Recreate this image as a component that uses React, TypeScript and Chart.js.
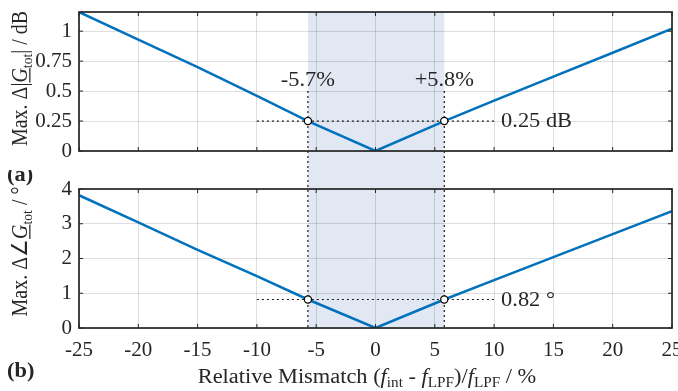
import React, { useEffect, useRef } from "react";
import { Chart, registerables } from "chart.js";
Chart.register(...registerables);

// ---- data ----
const mismatch = [-25, -20, -15, -10, -5.7, 0, 5.8, 10, 15, 20, 25];
const magDeviation = [1.16, 0.93, 0.7, 0.46, 0.25, 0, 0.25, 0.42, 0.62, 0.82, 1.02];
const phaseDeviation = [3.82, 3.04, 2.25, 1.49, 0.82, 0, 0.82, 1.38, 2.04, 2.7, 3.36];
const xTicks = [-25, -20, -15, -10, -5, 0, 5, 10, 15, 20, 25];
const magTicks = [0, 0.25, 0.5, 0.75, 1];
const phaseTicks = [0, 1, 2, 3, 4];
const limitX = [-5.7, 5.8];
const limitLabels = ["-5.7%", "+5.8%"];
const magLimit = [0.25, 0.25];
const phaseLimit = [0.82, 0.82];
const guideSpan = [-10, 10];
const guideTopValue = 0.5;
const magLimitLabel = "0.25 dB";
const phaseLimitLabel = "0.82 °";
const magRange = [0, 1.16];
const phaseRange = [0, 4];
const xRange = [-25, 25];

const FONT = '"Liberation Serif", "Times New Roman", serif';
const TEXT = "#262626";
const FS = 20;
const TICK_FS = 21;
const STRETCH = 1.12;

type Seg = { t: string; italic?: boolean; sub?: boolean; under?: boolean; bold?: boolean };

function segFont(s: Seg, size: number) {
  const sz = s.sub ? size * 0.68 : size;
  return `${s.italic ? "italic " : ""}${s.bold ? "bold " : ""}${sz}px ${FONT}`;
}

function drawRich(ctx: CanvasRenderingContext2D, segs: Seg[], x: number, y: number, size: number, align: "left" | "center") {
  ctx.textBaseline = "alphabetic";
  ctx.textAlign = "left";
  let w = 0;
  for (const s of segs) {
    ctx.font = segFont(s, size);
    w += ctx.measureText(s.t).width;
  }
  let cx = align === "center" ? x - w / 2 : x;
  for (const s of segs) {
    ctx.font = segFont(s, size);
    const sw = ctx.measureText(s.t).width;
    const dy = s.sub ? size * 0.22 : 0;
    ctx.fillText(s.t, cx, y + dy);
    if (s.under) ctx.fillRect(cx, y + size * 0.1, sw, 1.1);
    cx += sw;
  }
}

// draw text horizontally stretched, anchored at (x, y)
function stretchedText(ctx: CanvasRenderingContext2D, text: string, x: number, y: number, font: string, align: CanvasTextAlign, baseline: CanvasTextBaseline) {
  ctx.save();
  ctx.translate(x, y);
  ctx.scale(STRETCH, 1);
  ctx.font = font;
  ctx.textAlign = align;
  ctx.textBaseline = baseline;
  ctx.fillText(text, 0, 0);
  ctx.restore();
}

const magTitle: Seg[] = [
  { t: "Max. Δ|" },
  { t: "G", italic: true, under: true },
  { t: "tot", sub: true },
  { t: "| / dB" },
];
const phaseTitle: Seg[] = [
  { t: "Max. Δ∠" },
  { t: "G", italic: true, under: true },
  { t: "tot", sub: true },
  { t: " / °" },
];
const xTitle: Seg[] = [
  { t: "Relative Mismatch (" },
  { t: "f", italic: true },
  { t: "int", sub: true },
  { t: " - " },
  { t: "f", italic: true },
  { t: "LPF", sub: true },
  { t: ")/" },
  { t: "f", italic: true },
  { t: "LPF", sub: true },
  { t: " / %" },
];

function makeOverlay(kind: "mag" | "phase") {
  const isTop = kind === "mag";
  return {
    id: "overlay-" + kind,
    beforeDraw(chart: any) {
      const { ctx, chartArea, scales } = chart;
      const xs = scales.x;
      const x0 = xs.getPixelForValue(limitX[0]);
      const x1 = xs.getPixelForValue(limitX[1]);
      const y0 = isTop ? chartArea.top : 0;
      const y1 = isTop ? chart.height : chartArea.bottom;
      ctx.save();
      ctx.fillStyle = "#e1e7f3";
      ctx.fillRect(x0, y0, x1 - x0, y1 - y0);
      ctx.restore();
    },
    beforeDatasetsDraw(chart: any) {
      const { ctx, scales } = chart;
      const xs = scales.x;
      const ys = scales.y;
      ctx.save();
      ctx.strokeStyle = "#1a1a1a";
      ctx.lineWidth = 1.2;
      ctx.setLineDash([2, 3]);
      for (const v of limitX) {
        const px = xs.getPixelForValue(v);
        ctx.beginPath();
        ctx.moveTo(px, isTop ? ys.getPixelForValue(guideTopValue) : 0);
        ctx.lineTo(px, isTop ? chart.height : ys.getPixelForValue(0));
        ctx.stroke();
      }
      const lv = isTop ? magLimit[0] : phaseLimit[0];
      const py = ys.getPixelForValue(lv);
      ctx.beginPath();
      ctx.moveTo(xs.getPixelForValue(guideSpan[0]), py);
      ctx.lineTo(xs.getPixelForValue(guideSpan[1]), py);
      ctx.stroke();
      ctx.restore();
    },
    afterDraw(chart: any) {
      const { ctx, chartArea, scales } = chart;
      const xs = scales.x;
      const ys = scales.y;
      const { left, right, top, bottom } = chartArea;
      ctx.save();
      // frame
      ctx.strokeStyle = TEXT;
      ctx.lineWidth = 1.7;
      ctx.strokeRect(left, top, right - left, bottom - top);
      // inward ticks
      ctx.lineWidth = 1;
      ctx.beginPath();
      for (const v of xTicks) {
        const px = xs.getPixelForValue(v);
        ctx.moveTo(px, top);
        ctx.lineTo(px, top + 4);
        ctx.moveTo(px, bottom);
        ctx.lineTo(px, bottom - 4);
      }
      for (const v of isTop ? magTicks : phaseTicks) {
        const py = ys.getPixelForValue(v);
        ctx.moveTo(left, py);
        ctx.lineTo(left + 4, py);
        ctx.moveTo(right, py);
        ctx.lineTo(right - 4, py);
      }
      ctx.stroke();

      ctx.fillStyle = TEXT;
      // annotations
      const lv = isTop ? magLimit[0] : phaseLimit[0];
      stretchedText(ctx, isTop ? magLimitLabel : phaseLimitLabel, xs.getPixelForValue(guideSpan[1]) + 7, ys.getPixelForValue(lv) + 1, `${FS}px ${FONT}`, "left", "middle");
      if (isTop) {
        limitX.forEach((v, i) => {
          stretchedText(ctx, limitLabels[i], xs.getPixelForValue(v), ys.getPixelForValue(guideTopValue) - 5, `${FS}px ${FONT}`, "center", "alphabetic");
        });
      }
      // y title
      ctx.save();
      ctx.translate(27, (top + bottom) / 2 - (isTop ? 3 : 7));
      ctx.scale(STRETCH, 1);
      ctx.rotate(-Math.PI / 2);
      drawRich(ctx, isTop ? magTitle : phaseTitle, 0, 0, FS, "center");
      ctx.restore();

      if (!isTop) {
        // panel labels and x title
        stretchedText(ctx, "(a)", 7, 11, `bold ${FS}px ${FONT}`, "left", "alphabetic");
        stretchedText(ctx, "(b)", 7, 207, `bold ${FS}px ${FONT}`, "left", "alphabetic");
        ctx.save();
        ctx.translate(367, 213);
        ctx.scale(STRETCH, 1);
        drawRich(ctx, xTitle, 0, 0, FS, "center");
        ctx.restore();
      }
      ctx.restore();
    },
  };
}

function makeConfig(kind: "mag" | "phase"): any {
  const isTop = kind === "mag";
  const values = isTop ? magDeviation : phaseDeviation;
  const limits = isTop ? magLimit : phaseLimit;
  const yTicks = isTop ? magTicks : phaseTicks;
  const yRange = isTop ? magRange : phaseRange;
  return {
    type: "line",
    data: {
      datasets: [
        {
          data: limitX.map((x, i) => ({ x, y: limits[i] })),
          showLine: false,
          pointRadius: 3.6,
          pointBackgroundColor: "#ffffff",
          pointBorderColor: "#000000",
          pointBorderWidth: 1.2,
          order: 0,
        },
        {
          data: mismatch.map((x, i) => ({ x, y: values[i] })),
          borderColor: "#0072BD",
          borderWidth: 2.5,
          pointRadius: 0,
          tension: 0,
          fill: false,
          order: 1,
        },
      ],
    },
    options: {
      responsive: false,
      animation: false,
      devicePixelRatio: 1,
      events: [],
      layout: { padding: { left: 0, right: 6, top: isTop ? 12 : 19, bottom: 0 } },
      plugins: { legend: { display: false }, tooltip: { enabled: false } },
      scales: {
        x: {
          type: "linear",
          min: xRange[0],
          max: xRange[1],
          afterBuildTicks: (s: any) => {
            s.ticks = xTicks.map((v) => ({ value: v }));
          },
          afterFit: (s: any) => {
            s.height = isTop ? 19 : 63;
            s.paddingLeft = 0;
            s.paddingRight = 0;
          },
          ticks: {
            display: !isTop,
            font: { family: FONT, size: TICK_FS },
            color: TEXT,
            padding: 10,
            maxRotation: 0,
            autoSkip: false,
            callback: (v: any) => String(v),
          },
          grid: { color: "rgba(0,0,0,0.13)", lineWidth: 1, drawTicks: false },
          border: { display: false },
        },
        y: {
          type: "linear",
          min: yRange[0],
          max: yRange[1],
          afterBuildTicks: (s: any) => {
            s.ticks = yTicks.map((v) => ({ value: v }));
          },
          afterFit: (s: any) => {
            s.width = 79;
            s.paddingTop = 0;
            s.paddingBottom = 0;
          },
          ticks: {
            font: { family: FONT, size: TICK_FS },
            color: TEXT,
            padding: 7,
            autoSkip: false,
            callback: (v: any) => String(v),
          },
          grid: { color: "rgba(0,0,0,0.13)", lineWidth: 1, drawTicks: false },
          border: { display: false },
        },
      },
    },
    plugins: [makeOverlay(kind)],
  };
}

export default function App() {
  const topRef = useRef<HTMLCanvasElement>(null);
  const botRef = useRef<HTMLCanvasElement>(null);
  useEffect(() => {
    const c1 = new Chart(topRef.current as HTMLCanvasElement, makeConfig("mag"));
    const c2 = new Chart(botRef.current as HTMLCanvasElement, makeConfig("phase"));
    return () => {
      c1.destroy();
      c2.destroy();
    };
  }, []);
  return (
    <div style={{ position: "absolute", left: 0, top: 0, width: 678, height: 391, background: "#fff" }}>
      <canvas ref={topRef} width={678} height={170} style={{ position: "absolute", left: 0, top: 0, width: 678, height: 170 }} />
      <canvas ref={botRef} width={678} height={221} style={{ position: "absolute", left: 0, top: 170, width: 678, height: 221 }} />
    </div>
  );
}
